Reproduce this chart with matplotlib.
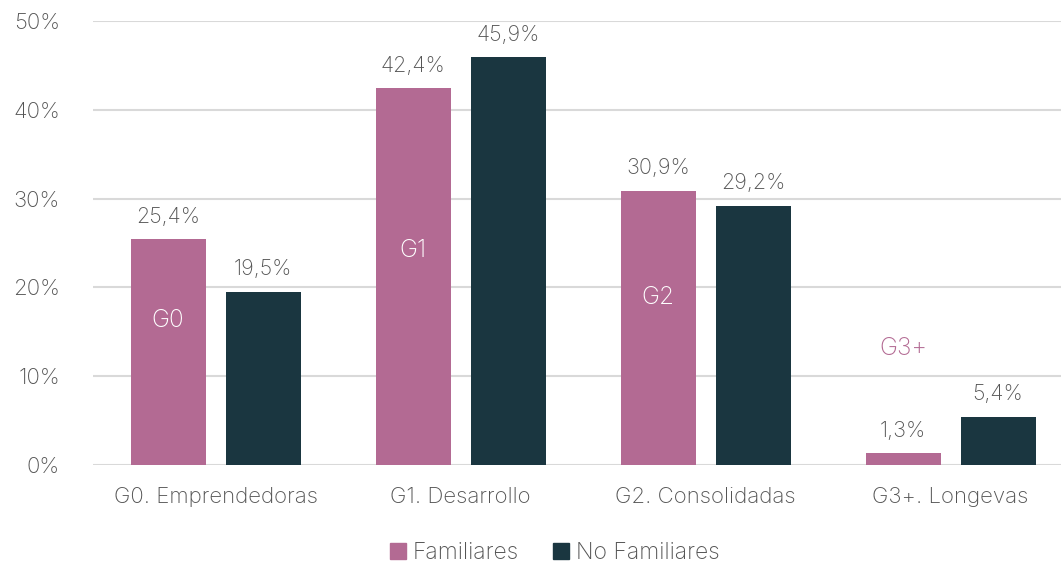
import numpy as np
import matplotlib
matplotlib.use('Agg')
import matplotlib.pyplot as plt
import matplotlib.patches as mpatches

plt.rcParams['font.family'] = ['Inter', 'DejaVu Sans']
plt.rcParams['font.weight'] = 'light'

categories = ['G0. Emprendedoras', 'G1. Desarrollo', 'G2. Consolidadas', 'G3+. Longevas']
familiares = [25.4, 42.4, 30.9, 1.3]
no_familiares = [19.5, 45.9, 29.2, 5.4]
gen_labels = ['G0', 'G1', 'G2', 'G3+']
gen_label_y = [16.3, 24.1, 18.9, 13.1]

PINK = '#B36A93'
DARK = '#1A3640'
GREY = '#555555'

fig = plt.figure(figsize=(10.61, 5.67), dpi=100)
ax = fig.add_axes([0.0877, 0.18, 0.9237, 0.783])

x = np.arange(len(categories))
w = 0.306
off = 0.194
ax.bar(x - off, familiares, w, color=PINK, zorder=3)
ax.bar(x + off, no_familiares, w, color=DARK, zorder=3)

for i in range(len(categories)):
    for xv, v in ((x[i] - off, familiares[i]), (x[i] + off, no_familiares[i])):
        ax.annotate(f'{v:.1f}%'.replace('.', ','), (xv, v), xytext=(0, 9),
                    textcoords='offset points', ha='center', va='bottom',
                    fontsize=15.5, color=GREY)
    inside = i < 3
    ax.text(x[i] - off, gen_label_y[i], gen_labels[i], ha='center', va='center',
            fontsize=17.5, color='white' if inside else PINK, zorder=4)

ax.set_xlim(-0.5, 3.5)
ax.set_ylim(0, 50)
ax.set_yticks(np.arange(0, 51, 10))
ax.set_yticklabels([f'{t}%' for t in range(0, 51, 10)])
ax.set_xticks(x)
ax.set_xticklabels(categories)
ax.tick_params(axis='both', length=0, labelsize=16, labelcolor=GREY)
ax.tick_params(axis='x', pad=16)
ax.tick_params(axis='y', pad=24)
for s in ax.spines.values():
    s.set_visible(False)
ax.grid(axis='y', color='#D9D9D9', linewidth=1.5, zorder=0)

handles = [mpatches.Patch(color=PINK, label='Familiares'),
           mpatches.Patch(color=DARK, label='No Familiares')]
fig.legend(handles=handles, loc='center', bbox_to_anchor=(0.523, 0.024), ncol=2,
           frameon=False, fontsize=16.5, handlelength=0.7, handleheight=0.7,
           handletextpad=0.3, columnspacing=1.5, labelcolor=GREY)

fig.savefig('out.png', dpi=100)
